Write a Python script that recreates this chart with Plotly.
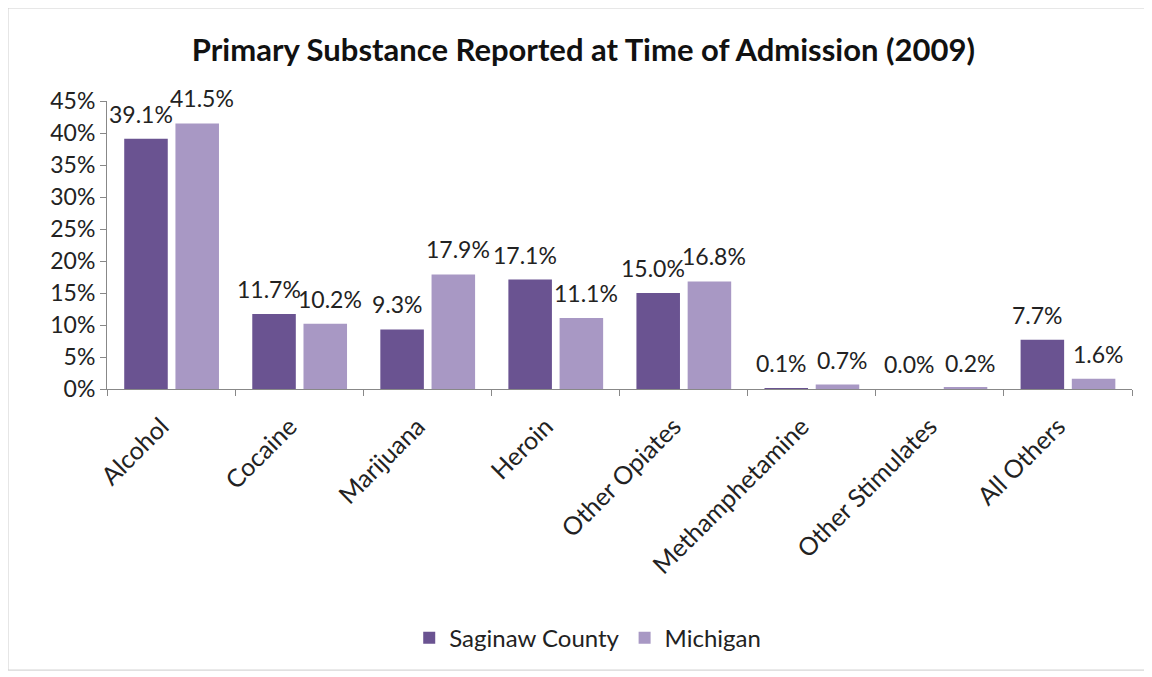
import plotly.graph_objects as go

categories = ["Alcohol", "Cocaine", "Marijuana", "Heroin", "Other Opiates",
              "Methamphetamine", "Other Stimulates", "All Others"]
saginaw = [39.1, 11.7, 9.3, 17.1, 15.0, 0.1, 0.0, 7.7]
michigan = [41.5, 10.2, 17.9, 11.1, 16.8, 0.7, 0.2, 1.6]
y_ticks = [0, 5, 10, 15, 20, 25, 30, 35, 40, 45]

FONT = "Lato, Open Sans, sans-serif"
BAR_OFFSET = 25.6  # px from category centre to each bar centre

fig = go.Figure()

fig.add_trace(go.Bar(
    x=categories,
    y=saginaw,
    name="Saginaw County",
    marker=dict(color="#6A5391", line=dict(width=0)),
))

fig.add_trace(go.Bar(
    x=categories,
    y=michigan,
    name="Michigan",
    marker=dict(color="#A898C4", line=dict(width=0)),
))

# value labels, Excel style: floating above each bar
annotations = []
for series, shift in [(saginaw, -BAR_OFFSET - 5), (michigan, BAR_OFFSET + 5)]:
    for cat, v in zip(categories, series):
        annotations.append(dict(
            x=cat, y=v, xref="x", yref="y",
            text=f"{v:.1f}%", showarrow=False,
            xshift=shift, yshift=25, yanchor="middle",
            font=dict(size=23, color="#222222"),
        ))

fig.update_layout(
    width=1144,
    height=669,
    barmode="group",
    bargap=0.2,
    bargroupgap=0.15,
    paper_bgcolor="white",
    plot_bgcolor="white",
    font=dict(family=FONT, size=23, color="#222222"),
    title=dict(
        text="<b>Primary Substance Reported at Time of Admission (2009)</b>",
        x=0.503, xanchor="center", y=0.937, yanchor="middle",
        font=dict(size=31, color="#111111"),
    ),
    margin=dict(l=99, r=20, t=93, b=288),
    showlegend=True,
    legend=dict(
        orientation="h", x=0.469, xanchor="center", y=-0.865, yanchor="middle",
        font=dict(size=24), itemwidth=30,
    ),
    xaxis=dict(
        tickangle=-45,
        showline=True, linecolor="#888888",
        ticks="outside", ticklen=6, tickcolor="#888888",
        tickson="boundaries",
        tickfont=dict(size=25),
        ticklabelstandoff=12,
        ticklabelshift=-10,
        automargin=False,
    ),
    yaxis=dict(
        range=[0, 45],
        tickvals=y_ticks,
        ticktext=[f"{t}%" for t in y_ticks],
        showgrid=False,
        showline=True, linecolor="#888888",
        ticks="outside", ticklen=6, tickcolor="#888888",
        zeroline=False,
        tickfont=dict(size=23),
        automargin=False,
    ),
    annotations=annotations,
    shapes=[dict(
        type="rect", xref="paper", yref="paper",
        x0=-0.0966, x1=1.0137, y0=-0.976, y1=1.323,
        line=dict(color="#cccccc", width=1),
    )],
)

fig.write_html("out.html")
